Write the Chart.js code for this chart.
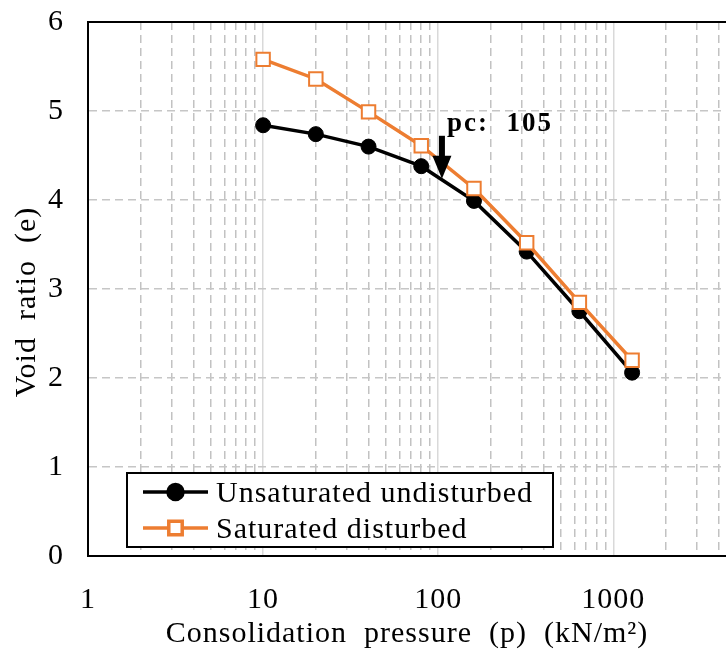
<!DOCTYPE html>
<html>
<head>
<meta charset="utf-8">
<script src="https://cdn.jsdelivr.net/npm/chart.js@4.4.1/dist/chart.umd.min.js"></script>
<style>
  html, body { margin: 0; padding: 0; background: #fff; overflow: hidden; }
  canvas { display: block; }
</style>
</head>
<body>
<canvas id="chart" width="726" height="653"></canvas>
<script>
// Oedometer results: void ratio against consolidation pressure (log scale)
const pressures = [10, 20, 40, 80, 160, 320, 640, 1280];
const unsaturatedUndisturbed = [4.84, 4.74, 4.60, 4.38, 3.99, 3.42, 2.75, 2.06];
const saturatedDisturbed = [5.58, 5.36, 4.99, 4.61, 4.13, 3.52, 2.85, 2.20];
const seriesNames = ['Unsaturated undisturbed', 'Saturated disturbed'];
const xDecadeLabels = [1, 10, 100, 1000];
const yTicks = [0, 1, 2, 3, 4, 5, 6];
const preconsolidationPressure = 105;
const xTitle = 'Consolidation  pressure  (p)  (kN/m²)';
const yTitle = 'Void  ratio  (e)';

const SERIF = '"Liberation Serif", "Times New Roman", serif';
const LETTER_SPACING = '1px';
const ORANGE = '#ED7D31';
const FONT_SIZE = 30;

const isDecade = v => Math.abs(Math.log10(v) - Math.round(Math.log10(v))) < 1e-9;

// Void ratio on the undisturbed curve at a given pressure (linear in log p)
function voidRatioAt(p) {
  const lp = Math.log10(p);
  for (let i = 0; i < pressures.length - 1; i++) {
    const a = Math.log10(pressures[i]), b = Math.log10(pressures[i + 1]);
    if (lp >= a && lp <= b) {
      const f = (lp - a) / (b - a);
      return unsaturatedUndisturbed[i] + f * (unsaturatedUndisturbed[i + 1] - unsaturatedUndisturbed[i]);
    }
  }
  return unsaturatedUndisturbed[0];
}

const spacingPlugin = {
  id: 'letterSpacing',
  beforeUpdate(chart) { chart.ctx.letterSpacing = LETTER_SPACING; },
  beforeDraw(chart) { chart.ctx.letterSpacing = LETTER_SPACING; }
};

// Top edge of the plot frame and the vertical axis title
const framePlugin = {
  id: 'frame',
  beforeDatasetsDraw(chart) {
    const { ctx, chartArea } = chart;
    ctx.save();
    ctx.strokeStyle = '#000';
    ctx.lineWidth = 2;
    ctx.beginPath();
    ctx.moveTo(chartArea.left, chartArea.top);
    ctx.lineTo(chartArea.right, chartArea.top);
    ctx.stroke();

    ctx.translate(27, (chartArea.top + chartArea.bottom) / 2 + 13);
    ctx.rotate(-Math.PI / 2);
    ctx.letterSpacing = LETTER_SPACING;
    ctx.font = FONT_SIZE + 'px ' + SERIF;
    ctx.fillStyle = '#000';
    ctx.textAlign = 'center';
    ctx.textBaseline = 'middle';
    ctx.fillText(yTitle, 0, 0);
    ctx.restore();
  }
};

// Arrow and label marking the preconsolidation pressure
const pcPlugin = {
  id: 'pcMarker',
  afterDatasetsDraw(chart) {
    const { ctx, scales: { x, y } } = chart;
    const px = x.getPixelForValue(preconsolidationPressure);
    const tipY = y.getPixelForValue(voidRatioAt(preconsolidationPressure)) - 1;
    const headH = 23, headW = 19, shaftTop = tipY - 43;
    ctx.save();
    ctx.fillStyle = '#000';
    ctx.fillRect(px - 3, shaftTop, 6, tipY - headH - shaftTop + 1);
    ctx.beginPath();
    ctx.moveTo(px - headW / 2, tipY - headH);
    ctx.lineTo(px + headW / 2, tipY - headH);
    ctx.lineTo(px, tipY);
    ctx.closePath();
    ctx.fill();
    ctx.letterSpacing = '2px';
    ctx.font = 'bold 27px ' + SERIF;
    ctx.textAlign = 'left';
    ctx.textBaseline = 'alphabetic';
    ctx.fillText('pc:  ' + preconsolidationPressure, px + 5, shaftTop - 5);
    ctx.restore();
  }
};

// Boxed legend inside the plot area, lower left
const legendPlugin = {
  id: 'boxLegend',
  afterDraw(chart) {
    const { ctx, chartArea } = chart;
    const left = chartArea.left + 39, top = chartArea.bottom - 83;
    const w = 426, h = 74;
    ctx.save();
    ctx.fillStyle = '#fff';
    ctx.fillRect(left, top, w, h);
    ctx.strokeStyle = '#000';
    ctx.lineWidth = 2;
    ctx.strokeRect(left, top, w, h);
    chart.data.datasets.forEach((ds, i) => {
      const cy = top + 19 + i * 36;
      const x0 = left + 16, x1 = left + 81;
      ctx.strokeStyle = ds.borderColor;
      ctx.lineWidth = ds.borderWidth;
      ctx.beginPath();
      ctx.moveTo(x0, cy);
      ctx.lineTo(x1, cy);
      ctx.stroke();
      ctx.fillStyle = ds.pointBackgroundColor;
      ctx.strokeStyle = ds.pointBorderColor;
      Chart.helpers.drawPoint(ctx, {
        pointStyle: ds.pointStyle,
        radius: ds.pointRadius,
        borderWidth: ds.pointBorderWidth,
        rotation: 0
      }, (x0 + x1) / 2, cy);
      ctx.fillStyle = '#000';
      ctx.letterSpacing = LETTER_SPACING;
      ctx.font = FONT_SIZE + 'px ' + SERIF;
      ctx.textAlign = 'left';
      ctx.textBaseline = 'middle';
      ctx.fillText(ds.label, x1 + 8, cy + 2);
    });
    ctx.restore();
  }
};

new Chart(document.getElementById('chart'), {
  type: 'line',
  data: {
    datasets: [
      {
        label: seriesNames[0],
        data: pressures.map((p, i) => ({ x: p, y: unsaturatedUndisturbed[i] })),
        borderColor: '#000',
        borderWidth: 3.5,
        pointStyle: 'circle',
        pointRadius: 7.5,
        pointBackgroundColor: '#000',
        pointBorderColor: '#000',
        pointBorderWidth: 1,
        order: 1
      },
      {
        label: seriesNames[1],
        data: pressures.map((p, i) => ({ x: p, y: saturatedDisturbed[i] })),
        borderColor: ORANGE,
        borderWidth: 3.5,
        pointStyle: 'rect',
        pointRadius: 9.5,
        pointBackgroundColor: '#fff',
        pointBorderColor: ORANGE,
        pointBorderWidth: 2,
        order: 0
      }
    ]
  },
  options: {
    responsive: false,
    animation: false,
    devicePixelRatio: 1,
    layout: { autoPadding: false, padding: { top: 22, right: 0, left: 0, bottom: 0 } },
    plugins: { legend: { display: false }, tooltip: { enabled: false } },
    scales: {
      x: {
        type: 'logarithmic',
        min: 1,
        max: 4400,
        afterBuildTicks(scale) {
          const t = [];
          for (let d = 1; d <= scale.max; d *= 10) {
            for (let m = 1; m <= 9; m++) {
              if (m * d <= scale.max) t.push({ value: m * d });
            }
          }
          scale.ticks = t;
        },
        afterFit(scale) {
          scale.height = 97;
          scale.paddingLeft = 0;
          scale.paddingRight = 0;
        },
        ticks: {
          autoSkip: false,
          maxRotation: 0,
          minRotation: 0,
          padding: 26,
          color: '#000',
          font: { family: SERIF, size: FONT_SIZE },
          callback: v => (xDecadeLabels.includes(v) ? String(v) : '')
        },
        grid: {
          drawTicks: false,
          lineWidth: 1.5,
          color: c => (c.tick && isDecade(c.tick.value) ? '#d9d9d9' : '#c2c2c2')
        },
        border: {
          display: true,
          color: '#000',
          width: 2,
          dash: c => (c.tick && !isDecade(c.tick.value) ? [8, 5] : [])
        },
        title: {
          display: true,
          text: xTitle,
          color: '#000',
          font: { family: SERIF, size: FONT_SIZE },
          padding: { top: 0, bottom: 1 }
        }
      },
      y: {
        min: 0,
        max: 6,
        afterBuildTicks(scale) { scale.ticks = yTicks.map(v => ({ value: v })); },
        afterFit(scale) {
          scale.width = 88;
          scale.paddingTop = 0;
          scale.paddingBottom = 0;
        },
        ticks: {
          padding: 24,
          color: '#000',
          font: { family: SERIF, size: FONT_SIZE }
        },
        grid: {
          drawTicks: false,
          lineWidth: 1.5,
          color: '#c6c6c6'
        },
        border: {
          display: true,
          color: '#000',
          width: 2,
          dash: c => (c.tick ? [8, 5] : [])
        }
      }
    }
  },
  plugins: [spacingPlugin, framePlugin, pcPlugin, legendPlugin]
});
</script>
</body>
</html>
